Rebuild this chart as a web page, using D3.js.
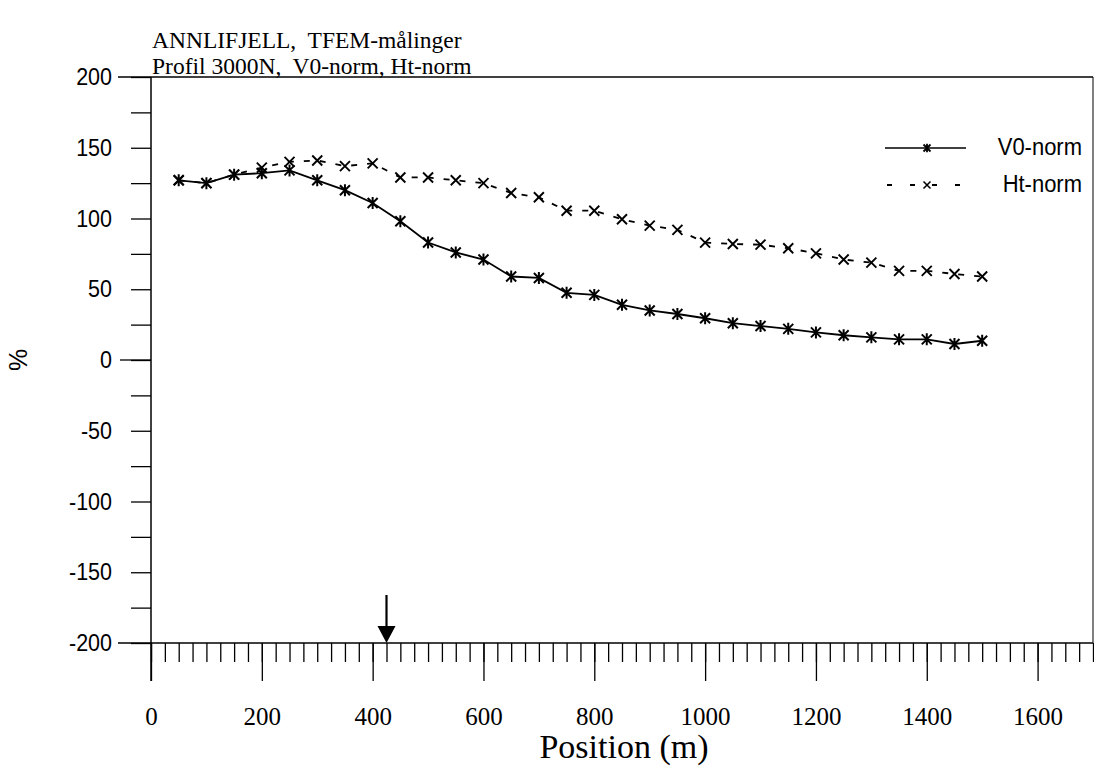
<!DOCTYPE html>
<html>
<head>
<meta charset="utf-8">
<script src="https://cdn.jsdelivr.net/npm/d3@7/dist/d3.min.js"></script>
<style>
  html, body { margin: 0; padding: 0; background: #fff; }
  svg { display: block; }
</style>
</head>
<body>
<svg id="chart" width="1094" height="769"></svg>
<script>
// ---- data ----
const positions = [50,100,150,200,250,300,350,400,450,500,550,600,650,700,750,800,850,900,950,1000,1050,1100,1150,1200,1250,1300,1350,1400,1450,1500];
const v0Norm = [127,125,131,132,134,127,120,111,98,83,76,71,59,58,47.5,46,39,35,32.5,29.5,26,24,22,19.5,17.5,16,14.6,14.6,11.3,13.6];
const htNorm = [127,125,131,136,140,141,137,139,129,129,127,125,118,115,105.5,105.5,99.5,95,92,83,82,81.5,79,75.4,71,68.8,63,63,60.8,59];
const seriesNames = ["V0-norm", "Ht-norm"];
const xMajorTicks = [0,200,400,600,800,1000,1200,1400,1600];
const yMajorTicks = [-200,-150,-100,-50,0,50,100,150,200];
const arrowPos = [425];
const titleLines = ["ANNLIFJELL,  TFEM-målinger", "Profil 3000N,  V0-norm, Ht-norm"];
const xTitle = "Position (m)";
const yTitle = "%";

// ---- layout ----
const svg = d3.select("#chart");
const x = d3.scaleLinear().domain([0, 1700]).range([151, 1093]);
const y = d3.scaleLinear().domain([-200, 200]).range([643, 77]);
const serif = "'Liberation Serif', 'Times New Roman', serif";
const sans = "'Liberation Sans', Arial, sans-serif";

// title
svg.selectAll("text.title").data(titleLines).join("text").attr("class", "title")
  .attr("x", 152).attr("y", (d, i) => 48 + i * 25.5)
  .attr("font-family", serif).attr("font-size", 23.5).attr("fill", "#000")
  .style("white-space", "pre").text(d => d);

// y axis ticks (every 25), labels at 50s
const yMinor = d3.range(-200, 201, 25);
const yAxis = d3.axisLeft(y).tickValues(yMinor).tickSize(20).tickPadding(19)
  .tickFormat(d => yMajorTicks.includes(d) ? String(d) : "");
const gy = svg.append("g").attr("transform", `translate(${x(0)},0)`).call(yAxis);
gy.select(".domain").remove();
gy.selectAll("line").attr("stroke", "#000").attr("stroke-width", 1.3);
gy.selectAll("text").attr("font-family", sans).attr("font-size", 21.5).attr("fill", "#000")
  .attr("transform", "scale(1,1.1)");
// longer zero tick
svg.append("line").attr("x1", 120).attr("x2", x(0)).attr("y1", y(0)).attr("y2", y(0))
  .attr("stroke", "#000").attr("stroke-width", 1.3);

// x axis minor ticks (every 25)
const xMinor = d3.range(0, 1701, 25);
const gxm = svg.append("g").attr("transform", `translate(0,${y(-200)})`)
  .call(d3.axisBottom(x).tickValues(xMinor).tickSize(19).tickFormat(""));
gxm.select(".domain").remove();
gxm.selectAll("line").attr("stroke", "#000").attr("stroke-width", 1.3);
// x axis major ticks + labels
const gx = svg.append("g").attr("transform", `translate(0,${y(-200)})`)
  .call(d3.axisBottom(x).tickValues(xMajorTicks).tickSize(38).tickPadding(26).tickFormat(d3.format("d")));
gx.select(".domain").remove();
gx.selectAll("line").attr("stroke", "#000").attr("stroke-width", 1.3);
gx.selectAll("text").attr("font-family", serif).attr("font-size", 25).attr("fill", "#000");

// frame lines
const frame = svg.append("g").attr("stroke", "#000").attr("stroke-width", 1.5);
frame.append("line").attr("x1", 118).attr("x2", x(1700)).attr("y1", y(200)).attr("y2", y(200));
frame.append("line").attr("x1", 118).attr("x2", x(1700)).attr("y1", y(-200)).attr("y2", y(-200));
frame.append("line").attr("x1", x(0)).attr("x2", x(0)).attr("y1", y(200)).attr("y2", y(-200) + 38);
frame.append("line").attr("x1", x(1700)).attr("x2", x(1700)).attr("y1", y(200)).attr("y2", y(-200)).attr("stroke-width", 1);

// axis titles
svg.append("text").attr("x", 624).attr("y", 758).attr("text-anchor", "middle")
  .attr("font-family", serif).attr("font-size", 34).attr("fill", "#000").text(xTitle);
svg.append("text").attr("transform", `translate(27,${y(0)}) rotate(-90)`).attr("text-anchor", "middle")
  .attr("font-family", sans).attr("font-size", 25).attr("fill", "#000").text(yTitle);

// markers
const star = r => `M${-r},${-r}L${r},${r}M${-r},${r}L${r},${-r}M0,${-r*1.2}L0,${r*1.2}`;
const cross = r => `M${-r},${-r}L${r},${r}M${-r},${r}L${r},${-r}`;

const line = d3.line().x(d => x(d[0])).y(d => y(d[1]));
const v0Data = positions.map((p, i) => [p, v0Norm[i]]);
const htData = positions.map((p, i) => [p, htNorm[i]]);

svg.append("path").datum(htData).attr("d", line).attr("fill", "none")
  .attr("stroke", "#000").attr("stroke-width", 1.8).attr("stroke-dasharray", "6,10");
svg.append("g").selectAll("path").data(htData).join("path")
  .attr("transform", d => `translate(${x(d[0])},${y(d[1])})`).attr("d", cross(5))
  .attr("stroke", "#000").attr("stroke-width", 1.9).attr("fill", "none");

svg.append("path").datum(v0Data).attr("d", line).attr("fill", "none")
  .attr("stroke", "#000").attr("stroke-width", 1.8);
svg.append("g").selectAll("path").data(v0Data).join("path")
  .attr("transform", d => `translate(${x(d[0])},${y(d[1])})`).attr("d", star(5))
  .attr("stroke", "#000").attr("stroke-width", 2).attr("fill", "none");

// arrow
arrowPos.forEach(p => {
  const ax = x(p), base = y(-200);
  svg.append("line").attr("x1", ax).attr("x2", ax).attr("y1", base - 48).attr("y2", base - 16)
    .attr("stroke", "#000").attr("stroke-width", 2.2);
  svg.append("path").attr("d", `M${ax - 9},${base - 17}L${ax + 9},${base - 17}L${ax},${base}Z`).attr("fill", "#000");
});

// legend
const legY = [148, 185];
const lg = svg.append("g");
lg.append("line").attr("x1", 885).attr("x2", 966).attr("y1", legY[0]).attr("y2", legY[0])
  .attr("stroke", "#000").attr("stroke-width", 1.6);
lg.append("path").attr("transform", `translate(927,${legY[0]})`).attr("d", star(3.5))
  .attr("stroke", "#000").attr("stroke-width", 1.8).attr("fill", "none");
lg.append("line").attr("x1", 887).attr("x2", 962).attr("y1", legY[1]).attr("y2", legY[1])
  .attr("stroke", "#000").attr("stroke-width", 1.8).attr("stroke-dasharray", "5,18,5,17");
lg.append("path").attr("transform", `translate(927,${legY[1]})`).attr("d", cross(3.5))
  .attr("stroke", "#000").attr("stroke-width", 1.5).attr("fill", "none");
lg.selectAll("text.leg").data(seriesNames).join("text").attr("class", "leg")
  .attr("transform", (d, i) => `translate(1082,${legY[i] + 7}) scale(1,1.08)`).attr("text-anchor", "end")
  .attr("font-family", sans).attr("font-size", 22).attr("fill", "#000").text(d => d);
</script>
</body>
</html>
